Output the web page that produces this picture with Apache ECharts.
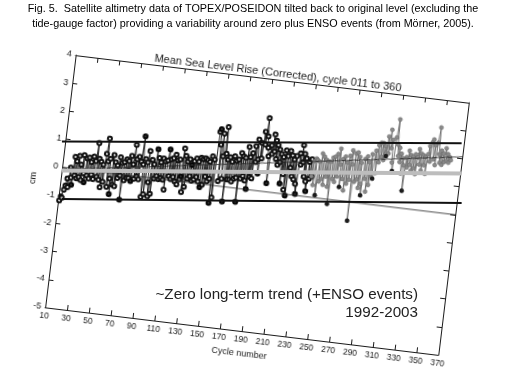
<!DOCTYPE html>
<html><head><meta charset="utf-8">
<script src="https://cdn.jsdelivr.net/npm/echarts/dist/echarts.min.js"></script>
<style>
html,body{margin:0;padding:0;width:505px;height:385px;overflow:hidden;background:#fff;}
#plot{position:absolute;left:-1.4px;top:38.3px;width:520px;height:330px;transform-origin:258px 167px;transform:rotate(6.9deg);}
#overlay{position:absolute;left:0;top:0;width:505px;height:385px;}
</style></head><body>
<div id="plot"></div><div id="overlay"></div>
<script>
// ---- data ----
const captionLines = [
  'Fig. 5.  Satellite altimetry data of TOPEX/POSEIDON tilted back to original level (excluding the',
  'tide-gauge factor) providing a variability around zero plus ENSO events (from Mörner, 2005).'
];
const plotTitle = 'Mean Sea Level Rise (Corrected), cycle 011 to 360';
const annotationLines = ['~Zero long-term trend (+ENSO events)', '1992-2003'];
const xName = 'Cycle number';
const yName = 'cm';
const xMin = 10, xMax = 370, xStep = 20;   // tick labels 10,30,...,370
const yMin = -5, yMax = 4, yStep = 1;      // tick labels -5..4

const firstCycle = 11;
// mean sea level (cm) per cycle, 11..360, on the original (tilted) axes
const seaLevel = [
 -1.18,-1.03,-1.08,-0.78,-0.63,-0.38,-0.68,0.02,-0.33,-0.58,
 0.42,-0.23,0.27,-0.33,0.47,-0.28,0.17,-0.38,0.52,-0.13,
 -0.44,0.41,-0.19,0.46,-0.29,0.31,-0.14,0.51,-0.29,0.36,
 1.01,-0.19,0.46,-0.29,0.36,-0.54,0.26,-0.34,0.66,1.21,
 0.4,-0.5,0.5,-0.2,-0.75,0.65,-0.4,0.4,-0.45,0.3,
 -0.15,0.6,-0.05,0.4,-0.9,0.45,-0.2,0.55,-0.1,0.5,
 -0.1,0.7,-0.2,0.4,1.1,-0.1,0.6,0.0,0.7,-0.1,
 0.54,1.44,0.44,-0.71,0.64,-0.61,0.54,0.94,-0.16,-0.66,
 0.64,-0.56,0.49,-0.01,1.04,0.09,0.74,-0.01,0.59,0.04,
 0.74,-0.01,0.64,-0.36,0.69,1.09,0.14,0.74,0.04,0.79,
 0.13,0.93,-0.02,0.73,-0.12,0.78,0.08,0.18,1.18,-0.37,
 0.93,-0.17,0.73,0.13,0.83,0.23,0.63,0.08,0.78,0.13,
 0.88,0.23,0.78,0.08,0.93,-0.12,0.88,-0.02,0.93,0.28,
 0.87,0.12,0.82,0.22,1.02,-0.63,0.92,-0.43,1.92,2.02,
 1.47,0.17,1.87,1.07,0.27,2.12,1.17,-0.53,0.97,0.27,
 1.07,0.27,0.92,0.22,1.12,0.32,0.97,0.37,1.02,-0.48,
 1.26,0.36,1.16,0.46,1.11,0.31,1.51,0.01,1.16,0.46,
 1.31,0.41,1.56,1.01,1.81,1.11,0.61,1.71,1.16,2.11,
 1.66,2.61,1.96,1.56,1.26,0.31,1.66,1.36,2.06,1.46,
 1.85,1.2,1.7,1.0,1.55,1.1,1.4,0.35,1.3,0.7,
 1.55,0.15,1.35,-0.05,1.55,0.95,1.4,0.65,1.25,0.55,
 1.4,0.4,0.05,1.5,1.1,1.8,1.2,1.5,0.7,1.35,
 0.54,0.19,1.24,0.64,1.34,0.74,1.29,0.44,1.39,1.34,
 0.09,1.29,0.59,1.59,0.69,1.49,0.49,1.39,0.79,1.34,
 0.44,1.34,-0.16,1.49,0.74,1.54,0.64,1.64,0.84,1.84,
 1.28,0.48,1.48,0.78,1.58,0.38,1.38,0.63,1.63,0.78,
 1.83,1.33,-0.67,1.73,0.73,1.78,0.83,1.63,0.53,1.43,
 0.68,0.28,1.58,0.88,1.68,0.43,1.48,0.68,1.78,0.98,
 0.92,1.92,1.12,2.12,1.52,2.22,1.72,2.22,1.62,2.12,
 1.77,2.47,1.87,2.72,2.07,2.37,1.57,1.27,2.47,3.12,
 2.22,1.82,2.12,1.62,1.92,1.22,1.77,1.52,0.62,1.82,
 1.46,2.06,1.56,1.91,1.36,1.86,1.46,1.96,1.26,1.86,
 2.16,1.61,2.01,1.41,1.96,1.61,1.91,1.31,2.01,2.31,
 1.76,2.46,2.56,1.86,2.36,1.66,2.46,3.01,2.06,1.76,
 2.2,1.7,2.1,1.8,2.3,1.85,2.1,1.8,2.0,1.9
];
const sideBStart = 236;   // grey part of the record
const poseidonCycles = [20,31,55,65,73,82,95,106,118,127,136,146,150,158,170,178,187,196,208,214,223,232,241,253,262,273,282,291,301,308,319];
const trendCycles = [10, 370];
const trendCm = [-0.08, 2.07];
const zeroCm = [0, 0];
// horizontal reference levels of the "tilted back" frame (cm)
const levelCycles = [10, 376];
const upperLevelCm = [1.05, 0.99];
const meanLevelCm = [0.02, -0.09];
const lowerLevelCm = [-1.0, -1.14];

// ---- build ----
const pts = seaLevel.map((v, i) => [firstCycle + i, v]);
const sideA = pts.filter(p => p[0] <= sideBStart);
const sideB = pts.filter(p => p[0] >= sideBStart);
const posPts = pts.filter(p => poseidonCycles.includes(p[0]));
const pair = (xs, ys) => xs.map((x, i) => [x, ys[i]]);

const FONT = '"Liberation Sans", Arial, Helvetica, sans-serif';
const INK = '#1a1a1a';

const plot = echarts.init(document.getElementById('plot'));
const axisCommon = () => ({
  axisLine: {show: true, onZero: false, lineStyle: {color: INK, width: 1}},
  axisTick: {show: true, inside: true, length: 5, lineStyle: {color: INK, width: 1}},
  splitLine: {show: false}
});
plot.setOption({
  animation: false,
  title: {text: plotTitle, left: 258, top: 23, textAlign: 'center',
          textStyle: {fontFamily: FONT, fontSize: 11, fontWeight: 'normal', color: INK}},
  grid: {left: 60, top: 40, width: 396, height: 254},
  xAxis: [
    Object.assign({type: 'value', min: xMin, max: xMax, interval: xStep, position: 'bottom',
      axisLabel: {fontFamily: FONT, fontSize: 8.5, color: INK, margin: 4, showMinLabel: true, showMaxLabel: true},
      name: xName, nameLocation: 'middle', nameGap: 15,
      nameTextStyle: {fontFamily: FONT, fontSize: 9, color: INK}}, axisCommon()),
    Object.assign({type: 'value', min: xMin, max: xMax, interval: xStep, position: 'top',
      axisLabel: {show: false}}, axisCommon())
  ],
  yAxis: [
    Object.assign({type: 'value', min: yMin, max: yMax, interval: yStep, position: 'left',
      axisLabel: {fontFamily: FONT, fontSize: 9, color: INK, margin: 4},
      name: yName, nameLocation: 'middle', nameGap: 20, nameRotate: 90,
      nameTextStyle: {fontFamily: FONT, fontSize: 9, color: INK}}, axisCommon()),
    Object.assign({type: 'value', min: yMin, max: yMax, interval: yStep, position: 'right',
      axisLabel: {show: false}}, axisCommon())
  ],
  series: [
    {name: 'TOPEX A', type: 'line', data: sideA, symbol: 'emptyCircle', symbolSize: 4,
     lineStyle: {color: '#111', width: 0.9}, itemStyle: {color: '#111', borderColor: '#111', borderWidth: 0.8},
     z: 3},
    {name: 'TOPEX B', type: 'line', data: sideB, symbol: 'circle', symbolSize: 4,
     lineStyle: {color: '#666', width: 0.9}, itemStyle: {color: '#8a8a8a', borderColor: '#6a6a6a', borderWidth: 0.6},
     z: 3},
    {name: 'Poseidon', type: 'scatter', data: posPts, symbol: 'circle', symbolSize: 4.5,
     itemStyle: {color: '#000'}, z: 4},
    {name: 'zero', type: 'line', data: pair(trendCycles, zeroCm), symbol: 'none',
     lineStyle: {color: '#222', width: 0.8}, z: 5},
    {name: 'trend', type: 'line', data: pair(trendCycles, trendCm), symbol: 'none',
     lineStyle: {color: '#222', width: 0.8}, z: 5}
  ]
});

const overlay = echarts.init(document.getElementById('overlay'));
overlay.setOption({
  animation: false,
  grid: {left: 51, width: 415, top: 115, height: 112},
  xAxis: {type: 'value', min: 0, max: 380, show: false},
  yAxis: {type: 'value', min: -2, max: 2, show: false},
  series: [
    {type: 'line', data: pair(levelCycles, meanLevelCm), symbol: 'none', lineStyle: {color: '#bdbdbd', width: 4}},
    {type: 'line', data: pair(levelCycles, upperLevelCm), symbol: 'none', lineStyle: {color: '#111', width: 2}},
    {type: 'line', data: pair(levelCycles, lowerLevelCm), symbol: 'none', lineStyle: {color: '#111', width: 2}}
  ],
  graphic: [
    {type: 'text', x: 253, y: 2, style: {text: captionLines.join('\n'), textAlign: 'center', textVerticalAlign: 'top',
      font: '10.8px ' + FONT, lineHeight: 15, fill: '#000'}},
    {type: 'text', x: 418, y: 286, style: {text: annotationLines.join('\n'), textAlign: 'right', textVerticalAlign: 'top',
      font: '15.2px ' + FONT, lineHeight: 18, fill: '#222'}}
  ]
});
</script></body></html>
